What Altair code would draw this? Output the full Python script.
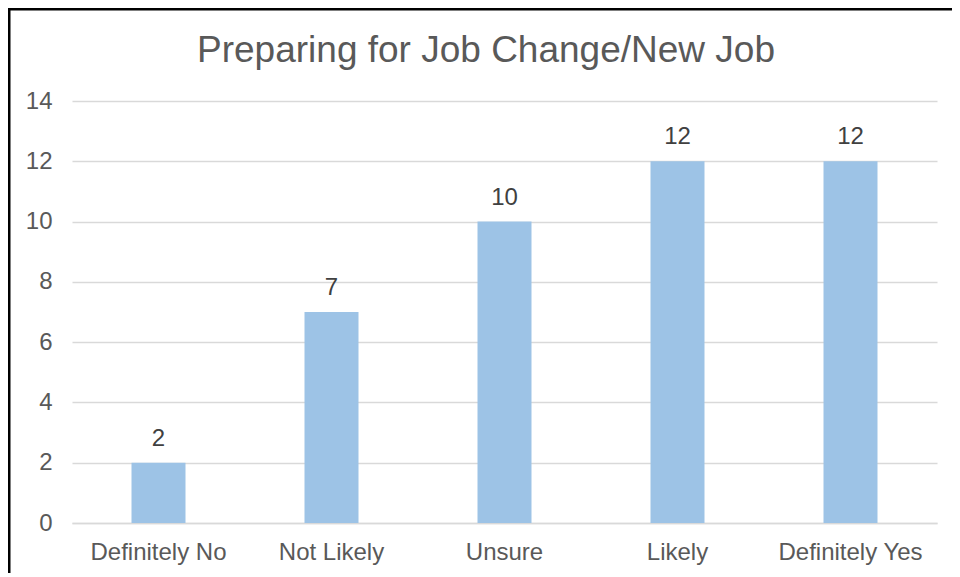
import altair as alt
import pandas as pd

categories = ["Definitely No", "Not Likely", "Unsure", "Likely", "Definitely Yes"]
counts = [2, 7, 10, 12, 12]
title_text = ["Preparing for Job Change/New Job"]

df = pd.DataFrame({"category": categories, "count": counts})
tdf = pd.DataFrame({"t": title_text})

FONT = "Liberation Sans"

x = alt.X("category:N", sort=categories, title=None,
          scale=alt.Scale(paddingInner=0, paddingOuter=0),
          axis=alt.Axis(labelAngle=0, labelFontSize=24, labelColor="#595959",
                        labelFont=FONT, ticks=False, domainColor="#D9D9D9",
                        domainWidth=1.5, labelPadding=36,
                        labelBaseline="alphabetic"))
y = alt.Y("count:Q", title=None,
          scale=alt.Scale(domain=[0, 14]),
          axis=alt.Axis(values=[0, 2, 4, 6, 8, 10, 12, 14], labelFontSize=24,
                        labelColor="#595959", labelFont=FONT, ticks=False,
                        domain=False, gridColor="#D9D9D9", gridWidth=1.5,
                        labelPadding=20))

bars = alt.Chart(df).mark_bar(size=54, color="#9DC3E6").encode(x=x, y=y)
labels = alt.Chart(df).mark_text(baseline="alphabetic", dy=-17, fontSize=24,
                                 color="#404040", font=FONT).encode(
    x=alt.X("category:N", sort=categories), y="count:Q", text="count:Q")

title = alt.Chart(tdf).mark_text(baseline="alphabetic", fontSize=37,
                                 color="#595959", font=FONT).encode(
    text="t:N", x=alt.value(414), y=alt.value(-39.5))

border_top = alt.Chart(tdf).mark_rule(color="black", strokeWidth=3).encode(
    x=alt.value(-64), x2=alt.value(1000), y=alt.value(-92))
border_left = alt.Chart(tdf).mark_rule(color="black", strokeWidth=3).encode(
    x=alt.value(-63), y=alt.value(-93), y2=alt.value(600))

chart = alt.layer(bars, labels, title, border_top, border_left).properties(
    width=865, height=422,
    autosize=alt.AutoSizeParams(type="none"),
    padding={"left": 64, "top": 93, "right": 15, "bottom": 50},
    background="white",
).configure_view(stroke=None)

chart.save("out.html", embed_options={"renderer": "svg", "actions": False})
